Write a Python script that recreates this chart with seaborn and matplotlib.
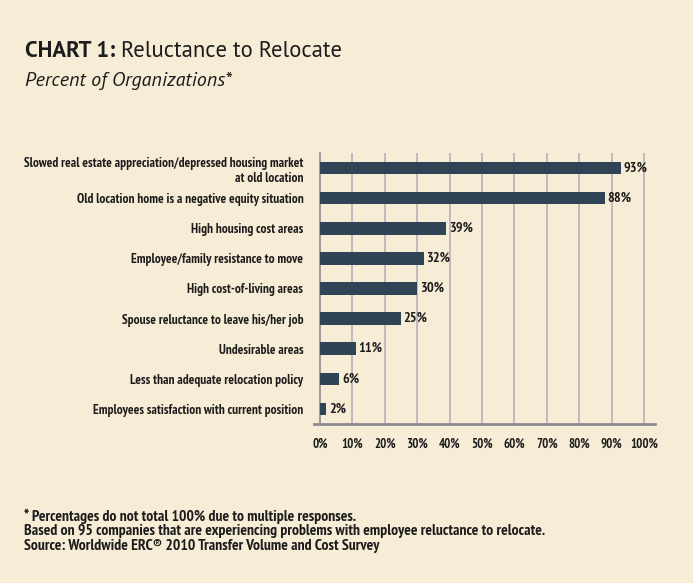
import matplotlib
matplotlib.use("Agg")
import matplotlib.pyplot as plt
from matplotlib import font_manager as fm
import seaborn as sns
import pandas as pd
import numpy as np

categories = [
    "Slowed real estate appreciation/depressed housing market\nat old location",
    "Old location home is a negative equity situation",
    "High housing cost areas",
    "Employee/family resistance to move",
    "High cost-of-living areas",
    "Spouse reluctance to leave his/her job",
    "Undesirable areas",
    "Less than adequate relocation policy",
    "Employees satisfaction with current position",
]
percents = [93, 88, 39, 32, 30, 25, 11, 6, 2]
x_ticks = list(range(0, 101, 10))

bg = "#f7ecd6"
bar_color = "#2f4455"
grid_color = "#b5a9b8"
axis_color = "#8c8c8c"
text_color = "#1c1c1c"

installed = {f.name for f in fm.fontManager.ttflist}


def pick(prefs):
    for p in prefs:
        if p in installed:
            return p
    return "DejaVu Sans"


narrow = pick(["PT Sans Narrow", "Fira Sans Condensed", "Asap Condensed", "Roboto Condensed",
               "Open Sans Condensed", "Archivo Narrow", "Encode Sans Condensed",
               "Barlow Semi Condensed", "Liberation Sans Narrow", "Roboto"])
title_font = pick(["PT Sans", "Source Sans 3", "Source Sans Pro", "Fira Sans", "Open Sans", "Lato"])

sns.set_theme(style="white")
plt.rcParams["font.family"] = [narrow, "DejaVu Sans"]

df = pd.DataFrame({"category": categories, "percent": percents})

W, H = 693, 583
fig = plt.figure(figsize=(W / 100, H / 100), dpi=100, facecolor=bg)
ax = fig.add_axes([313.5 / W, 159 / H, (655 - 313.5) / W, (424 - 153) / H])
ax.set_facecolor(bg)

sns.barplot(data=df, x="percent", y="category", orient="h", color=bar_color,
            width=0.42, saturation=1, ax=ax, zorder=3, edgecolor="none", linewidth=0)

ax.set_xlim(-2, 103.4)
ax.set_ylim(len(categories) - 0.5, -0.5)
ax.tick_params(axis="x", direction="out", length=6, width=1.2, color=axis_color, pad=4)
ax.tick_params(axis="y", which="major", length=0, pad=12)
ax.tick_params(axis="y", which="minor", direction="inout", length=6, width=1.2, color=axis_color)
ax.set_xticks(x_ticks)
ax.set_xticklabels([f"{t}%" for t in x_ticks])
ax.set_yticks(range(len(categories)))
ax.set_yticklabels(categories)
ax.set_yticks(np.arange(-0.5, len(categories) - 0.5, 1), minor=True)
ax.set_xlabel("")
ax.set_ylabel("")

for xv in x_ticks[1:]:
    ax.axvline(xv, color=grid_color, lw=1.1, zorder=1)

for s in ["top", "right"]:
    ax.spines[s].set_visible(False)
ax.spines["left"].set_position(("data", 0))
ax.spines["left"].set_color(axis_color)
ax.spines["left"].set_linewidth(1.2)
ax.spines["bottom"].set_color(axis_color)
ax.spines["bottom"].set_linewidth(2)

ylabels = ax.get_yticklabels()
xlabels = ax.get_xticklabels()
for lab in ylabels:
    lab.set_fontsize(10)
    lab.set_fontweight("bold")
    lab.set_color(text_color)
for lab in xlabels:
    lab.set_fontsize(10.5)
    lab.set_fontweight("bold")
    lab.set_color(text_color)

# fit the longest category label to the reference width (~279 px)
fig.canvas.draw()
r = fig.canvas.get_renderer()
widest = max(lab.get_window_extent(r).width for lab in ylabels)
ysize = 10 * 279 / widest
for lab in ylabels:
    lab.set_fontsize(ysize)
# fit x tick label "100%" to ~28 px
w100 = xlabels[-1].get_window_extent(r).width
xsize = 10.5 * 28 / w100
for lab in xlabels:
    lab.set_fontsize(xsize)

for i, v in enumerate(percents):
    ax.text(v + 0.8, i, f"{v}%", va="center", ha="left", fontsize=xsize * 1.1,
            fontweight="bold", color=text_color, zorder=4)

# title: bold prefix followed by regular text, fitted to reference width (25..343 px)
tsize = 15
t1 = fig.text(25 / W, 1 - 57 / H, "CHART 1:", fontsize=tsize, fontweight="bold",
              color=text_color, family=[title_font, "DejaVu Sans"], va="baseline")
t2 = fig.text(0, 1 - 57 / H, "Reluctance to Relocate", fontsize=tsize,
              color=text_color, family=[title_font, "DejaVu Sans"], va="baseline")
fig.canvas.draw()
r = fig.canvas.get_renderer()
gap = 6
total = t1.get_window_extent(r).width + gap + t2.get_window_extent(r).width
tsize = tsize * (343 - 25 - gap) / (total - gap)
t1.set_fontsize(tsize)
t2.set_fontsize(tsize)
fig.canvas.draw()
bb = t1.get_window_extent(fig.canvas.get_renderer())
t2.set_x((bb.x1 + gap) / W)

sub = fig.text(25 / W, 1 - 86 / H, "Percent of Organizations*", fontsize=12, style="italic",
               color=text_color, family=[title_font, "DejaVu Sans"], va="baseline")
fig.canvas.draw()
ws = sub.get_window_extent(fig.canvas.get_renderer()).width
sub.set_fontsize(12 * 206 / ws)

notes = [
    "* Percentages do not total 100% due to multiple responses.",
    "Based on 95 companies that are experiencing problems with employee reluctance to relocate.",
    "Source: Worldwide ERC\u00ae 2010 Transfer Volume and Cost Survey",
]
note_texts = []
for yy, line in zip([516, 531, 546], notes):
    note_texts.append(fig.text(24 / W, 1 - yy / H, line, fontsize=10, fontweight="bold",
                               color=text_color, va="center"))
# the second note spans about 24..548 px in the reference
fig.canvas.draw()
wn = note_texts[1].get_window_extent(fig.canvas.get_renderer()).width
for t in note_texts:
    t.set_fontsize(10 * 524 / wn)

fig.savefig("out.png", dpi=100, facecolor=bg)
